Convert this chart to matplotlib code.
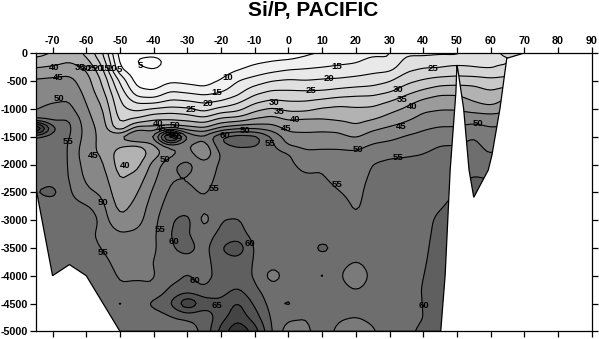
import numpy as np
import matplotlib
matplotlib.use("Agg")
import matplotlib.pyplot as plt
from matplotlib.patches import PathPatch
from matplotlib.path import Path
from matplotlib.ticker import FuncFormatter

plt.rcParams['font.family'] = ['Liberation Sans', 'DejaVu Sans']

depths = [0,150,300,450,600,750,900,1050,1200,1350,1500,1650,1800,2000,2250,2500,2750,3000,3250,3500,3750,4000,4250,4500,4750,5000]
lons = list(range(-75, 75, 5))

c_m75 = [33,37,41,45,47,48,49,50,55,90,58,57,57,57,58,60,57,57,57,57,57,57,57,57,57,57]
c_m70 = [35,38,42,45.5,47,48.5,50,52,54,62,57,57,57,57,58,62,57,57,57,57,57,57,57,57,57,57]
c_m65 = [37,40,43,46,47.5,49,50.5,52,55.5,56,55.5,55,55,55,55,55.5,57,57,57,57,57,57,57,57,57,57]
c_m60 = [34,37,40,42,43,44,45,46,47,48,48,47,46,47.5,49,51,55.5,61,57,57,57,57,57,57,57,57]
c_m55 = [25,28,31,33.5,35,37,39,40.5,41.5,42.5,43,43.5,44.5,45.5,47,49,51,52,53,54.7,56,57,57,57,57,57]
c_m50 = [7,8.5,10.5,18,21,24,25.5,27,28.5,30.5,46,41,37,37.5,39.5,41,43,46,50.5,52.5,53.5,54.5,55.5,61.5,57,57]
c_m45 = [6,4.5,6,7,9.5,13.5,20,25,31.5,43,54,39,36,38,42,44.5,46.5,48,51,52.5,53.5,54.5,56,57.5,57,57]
c_m40 = [6,3.5,5,7,8,12.5,20,28,35,42,50,44,42,47,49,51,52.5,53.5,54,54,55,54.5,55.5,61.5,57,57]
c_m35 = [6.5,6,6.5,8,12,17.5,22,29,35,43,85,52,48,54,54.8,56,57.5,59.5,60.5,59.5,58,58,61,65,59.5,57.5]
c_m30 = [6.5,6.5,7,8.5,10.5,16.5,21.5,28,34,42,55,50,52,57,54.8,56,57.5,62,60.5,62,58,60.5,62,76,60.5,58]
c_m25 = [6.5,7,7.5,8.5,9.3,15,20,24.5,32.5,40,52,47,45,51.5,53,54.5,56,52.5,57,58,58,58,60.5,68,61,61]
c_m20 = [6.5,7,7.5,9.5,12,16.5,21.5,29,37,46,61,59,56,56,56.5,57,57.5,60,61.5,65,63,62,63,66,68,72]
c_m15 = [6.5,7.5,9.6,14,17,19.5,25,30,38,49,64,61.5,57,57,57,57,57.5,60.5,62,69,63,62.5,65.5,71,73.5,80]
c_m10 = [7,9,12,16,20.5,25,30,35,41,49,63,61,57,57,57,57,57,57,58,59,59.5,59.5,61,64,67.5,73]
c_m5 = [7.5,10,13.5,18.5,23,27.5,32,37.5,42.5,47.5,55,56,57,57,57,57,57,57,57,57,57,52.5,57,58,59,60]
c_0 = [7,11,15,19.5,23.5,27,31,35,40,43.5,47,49.5,55.5,56,57,57,57,57,57,57,57,57,57,61.5,56,52]
c_5 = [9,12,15.5,19,23,27,31,35,41,43.5,46.5,48.5,51,53.5,55.8,57,57,57,57,57,57,57,57,57,55,54]
c_10 = [10,13,16,19.8,23,27.5,32.5,37,40.5,44,46.5,49,51,54.5,55.5,57,57,57,57,62,57,61.5,57,57,57,57]
c_15 = [12,14,16.5,20,24,28.5,34,37,39.5,44,46,49,51,52,53.5,55.2,57,57,57,58,57,56,57,57,55.5,54]
c_20 = [13,14.5,17,21,24.7,29.5,33.5,36.5,38.7,41,44.5,48,51,52,53,53.5,54.3,55.5,57,57,55,50,55,57,55,52]
c_25 = [14,16.5,18.5,22,25.2,29.7,33.5,37,40,44,47.5,50.5,53,55.2,56,57,57,57,57,57,57,57,57,57,56,54.5]
c_30 = [14.5,15.5,19,23.5,27,31.5,36,39.5,42,46,48.5,51.5,54,56,57,57,57,57,57,57,57,57,57,57,57,57]
c_35 = [19,22,24,27.5,31,35,39,41.5,44.5,47.5,50.5,52.5,54.5,56,57,57,57,57,57,57,57,57,57,57,58,59]
c_40 = [18.5,23,25.5,29.5,33.5,38,42,44.8,47,49.5,51.5,53.5,55,56,57,57.5,58,58.5,58.7,59,59.5,60,60.5,60.3,60,61]
c_45 = [19,23.5,25.5,31,35.5,40,43.5,45.3,48,50.5,53,55,56,57,58,59,59.7,61,61.5,62,62,62,62,62,62,62]
c_50 = [19,23,27.5,31,36,40,43,45.5,48,50.5,53,55,56.5,58,59,60,61,61,61,61,61,61,61,61,61,61]
c_55 = [22,24,25.5,31.5,35.5,38,40.5,44.5,48.5,52,55.1,56,57,58,60.5,61,61,61,61,61,61,61,61,61,61,61]
c_60 = [24,24.3,24.8,30.5,33.5,36.5,38.5,44,47.5,50.5,52,53.5,54.7,57,60,61,61,61,61,61,61,61,61,61,61,61]
c_65 = [26,24,27,31,35,39,42,45,48,51,54,56,57,58,60,61,61,61,61,61,61,61,61,61,61,61]
c_70 = [26,26.5,28,31,35,39,42,45,48,51,54,56,57,58,60,61,61,61,61,61,61,61,61,61,61,61]
columns = [c_m75,c_m70,c_m65,c_m60,c_m55,c_m50,c_m45,c_m40,c_m35,c_m30,c_m25,c_m20,c_m15,c_m10,c_m5,
           c_0,c_5,c_10,c_15,c_20,c_25,c_30,c_35,c_40,c_45,c_50,c_55,c_60,c_65,c_70]

section_lon = [-75,-75,-70,-65,-60,-50,45.2,46.5,48,49.7,50,50.3,52,53.6,55,59.3,60.4,62.8,64.8,69.7,-75]
section_depth = [0,2400,4000,3800,4000,5000,5000,4000,2100,700,210,300,1000,2100,2590,2100,1830,985,90,0,0]

levels = [0,5,10,15,20,25,30,35,40,45,50,55,60,65,70,75,100]
shades = [253,253,241,233,224,212,200,178,155,135,122,110,95,82,68,52]

lab_text = ['40','45','50','55','45','40','35','30','25','20','15','10','5','5','10','15','20','25','30','35','40','45','50','60','55','50',
            '40','45','50','55','60','55','15','20','25','25','30','35','40','45','50','55','50','55','50','55','55','60','60','65','60','55','60']
lab_lon = [-69.5,-68.2,-68.2,-65.3,-57.8,-48.4,-61.8,-60,-58.3,-56.4,-54.4,-52.4,-50.1,-44,-18,-21.4,-24,-29,-4.2,-2.9,2,-0.7,-12.8,-18.8,-5.4,-36.6,
           -38.8,-37.9,-33.6,-35,-34,-33,14.4,11.9,6.7,42.8,32.6,33.6,36.6,33.6,20.5,32.6,56.2,-22.2,-54.9,-54.9,-38,-34,-27.7,-21.2,-11.3,14.4,40.1]
lab_depth = [258,432,810,1590,1830,2022,258,270,282,282,270,282,288,222,432,708,900,1002,876,1038,1188,1350,1380,1482,1620,1908,
             1260,1350,1290,1440,1470,1500,240,462,678,282,660,828,960,1308,1722,1878,1260,2428,2680,3586,3178,3388,4078,4528,3418,2368,4528]


def smooth_field(z):
    """Resample on a fine grid and round the corners the way a gridding package would."""
    fx = np.arange(lons[0], lons[-1] + 0.5, 1.0)
    fy = np.arange(0, 5001, 50.0)
    a = np.array([np.interp(fx, lons, row) for row in z])
    a = np.array([np.interp(fy, depths, col) for col in a.T]).T
    k = np.array([1, 3, 4, 3, 1], float)
    k /= k.sum()
    for axis in (0, 1):
        pad = [(0, 0), (0, 0)]
        pad[axis] = (2, 2)
        p = np.pad(a, pad, mode='edge')
        a = np.apply_along_axis(lambda m: np.convolve(m, k, mode='valid'), axis, p)
    return fx, fy, a


W, H = 599, 339
fig = plt.figure(figsize=(W/100, H/100), dpi=100, facecolor='white')
ax = fig.add_axes([35.7/W, 1-331.3/H, (591.7-35.7)/W, (331.3-53.3)/H])

fx, fy, Z = smooth_field(np.array(columns).T)
X, Y = np.meshgrid(fx, -fy)
colors = [(s/255, s/255, s/255) for s in shades]
fills = ax.contourf(X, Y, Z, levels=levels, colors=colors)
lines = ax.contour(X, Y, Z, levels=levels[1:-1], colors='black', linewidths=0.8)

outline = Path(np.column_stack([section_lon, -np.array(section_depth)]))
clip = PathPatch(outline, transform=ax.transData, facecolor='none', edgecolor='black', linewidth=0.9, zorder=3)
ax.add_patch(clip)
fills.set_clip_path(clip)
lines.set_clip_path(clip)

for t, lo, de in zip(lab_text, lab_lon, lab_depth):
    ax.text(lo, -de, t, fontsize=6.8, fontweight='bold', ha='center', va='center', color='black', zorder=4)

ax.set_xlim(-75, 90)
ax.set_ylim(-5000, 0)
ax.set_xticks(range(-70, 100, 10))
ax.set_yticks(range(-5000, 500, 500))
ax.tick_params(axis='both', which='major', direction='out', length=4, width=0.9, top=True, right=True,
               labeltop=True, labelbottom=False, labelleft=True, labelright=False, labelsize=7.7, pad=1.5)
ax.xaxis.set_major_formatter(FuncFormatter(lambda v, p: f'{int(v)}'))
ax.yaxis.set_major_formatter(FuncFormatter(lambda v, p: f'{int(v)}'))
for lab in ax.get_xticklabels() + ax.get_yticklabels():
    lab.set_fontweight('bold')
for s in ax.spines.values():
    s.set_linewidth(0.9)

fig.text(313.5/W, 1-10.5/H, 'Si/P, PACIFIC', fontsize=15, fontweight='bold', ha='center', va='center')
fig.savefig('out.png', dpi=100, facecolor='white')
